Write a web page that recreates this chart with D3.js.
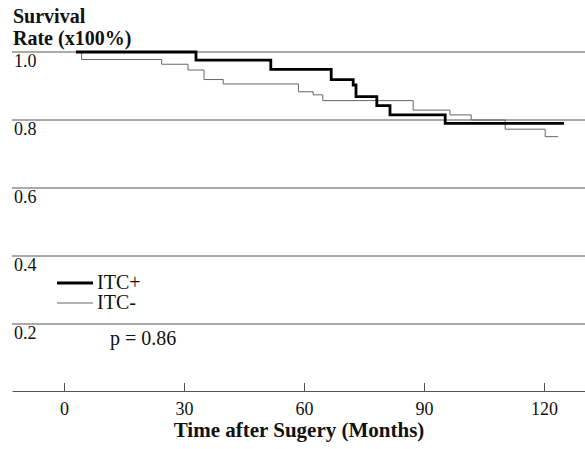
<!DOCTYPE html>
<html>
<head>
<meta charset="utf-8">
<script src="https://cdn.jsdelivr.net/npm/d3@7"></script>
<style>
  body { margin: 0; background: #fff; }
  text { font-family: "Liberation Serif", "Times New Roman", serif; fill: #111; }
</style>
</head>
<body>
<div id="plotContainer"></div>
<script>
// survival curves (months, survival fraction)
const itcPosMonths = [3, 33, 51.7, 66.8, 72.3, 73, 78.2, 81.5, 95.3, 125];
const itcPosSurv   = [1.0, 0.976, 0.949, 0.919, 0.903, 0.869, 0.842, 0.815, 0.79, 0.79];

const itcNegMonths = [3, 4.4, 24.4, 31, 35, 39.8, 58.6, 62.3, 64.7, 87.3, 96.5, 101.8, 110.3, 120.3, 123.5];
const itcNegSurv   = [1.0, 0.978, 0.964, 0.947, 0.919, 0.906, 0.883, 0.874, 0.857, 0.829, 0.815, 0.80, 0.773, 0.751, 0.751];

const xTicks = [0, 30, 60, 90, 120];
const yTicks = [0.2, 0.4, 0.6, 0.8, 1.0];
const legendLabels = ["ITC+", "ITC-"];
const pText = "p = 0.86";

const W = 585, H = 449;

const svg = d3.select("#plotContainer")
  .append("svg")
    .attr("width", W)
    .attr("height", H);

// x spans the whole axis line, 0..120 months sit at 64..544
const x = d3.scaleLinear()
  .domain([-13, 130.25])
  .range([12, 585]);

const y = d3.scaleLinear()
  .domain([0, 1])
  .range([392, 52]);

// horizontal grid lines with labels hung underneath
const grid = svg.append("g");
grid.selectAll("line")
  .data(yTicks)
  .enter()
  .append("line")
    .attr("x1", 12)
    .attr("x2", W)
    .attr("y1", d => y(d))
    .attr("y2", d => y(d))
    .attr("stroke", "#555")
    .attr("stroke-width", 1);
grid.selectAll("text")
  .data(yTicks)
  .enter()
  .append("text")
    .attr("x", 14)
    .attr("y", d => y(d) + 15)
    .style("font-size", "18px")
    .text(d => d.toFixed(1));

// x axis, ticks pointing up
svg.append("g")
  .attr("transform", "translate(0,391)")
  .call(d3.axisBottom(x).tickValues(xTicks).tickSizeInner(-8).tickSizeOuter(0).tickPadding(11))
  .call(g => g.select(".domain").attr("stroke", "#555"))
  .call(g => g.selectAll(".tick line").attr("stroke", "#555"))
  .call(g => g.selectAll(".tick text")
    .style("font-family", "Liberation Serif")
    .style("font-size", "18px")
    .attr("fill", "#111"));

// curves
const step = d3.line()
  .x(d => x(d[0]))
  .y(d => y(d[1]))
  .curve(d3.curveStepAfter);

svg.append("path")
  .datum(d3.zip(itcNegMonths, itcNegSurv))
  .attr("d", step)
  .attr("fill", "none")
  .attr("stroke", "#666")
  .attr("stroke-width", 1);

svg.append("path")
  .datum(d3.zip(itcPosMonths, itcPosSurv))
  .attr("d", step)
  .attr("fill", "none")
  .attr("stroke", "#000")
  .attr("stroke-width", 2.8);

// legend
const legend = svg.append("g");
legend.append("line")
  .attr("x1", 57).attr("x2", 93).attr("y1", 283).attr("y2", 283)
  .attr("stroke", "#000").attr("stroke-width", 2.8);
legend.append("line")
  .attr("x1", 57).attr("x2", 93).attr("y1", 303).attr("y2", 303)
  .attr("stroke", "#666").attr("stroke-width", 1);
legend.selectAll("text.lab")
  .data(legendLabels)
  .enter()
  .append("text")
    .attr("class", "lab")
    .attr("x", 97)
    .attr("y", (d, i) => 289 + i * 20)
    .style("font-size", "20px")
    .text(d => d);

svg.append("text")
  .attr("x", 110)
  .attr("y", 345)
  .style("font-size", "20px")
  .text(pText);

// titles
svg.append("text")
  .attr("x", 13)
  .attr("y", 23)
  .style("font-size", "20px")
  .style("font-weight", "bold")
  .text("Survival");
svg.append("text")
  .attr("x", 13)
  .attr("y", 45)
  .style("font-size", "20px")
  .style("font-weight", "bold")
  .text("Rate (x100%)");

svg.append("text")
  .attr("x", 299)
  .attr("y", 437)
  .attr("text-anchor", "middle")
  .style("font-size", "21px")
  .style("font-weight", "bold")
  .text("Time after Sugery (Months)");
</script>
</body>
</html>
